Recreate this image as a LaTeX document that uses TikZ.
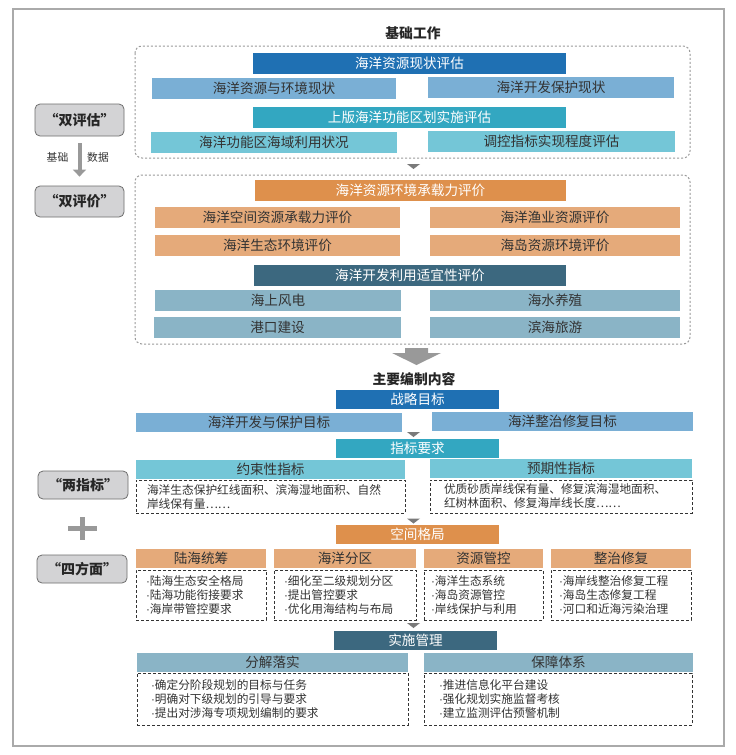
\documentclass[tikz,border=0pt]{standalone}
\usepackage{fontspec}
\setmainfont{Noto Sans CJK SC}
\newfontfamily\latinfont{Liberation Sans}
\newcommand{\dt}{{\latinfont ·}}
\usetikzlibrary{arrows.meta}
\definecolor{cDarkBlue}{HTML}{1F70B3}
\definecolor{cLightBlue}{HTML}{7AAFD5}
\definecolor{cTeal}{HTML}{33A7C1}
\definecolor{cLightTeal}{HTML}{74C6D7}
\definecolor{cDarkOrange}{HTML}{DE904C}
\definecolor{cLightOrange}{HTML}{E5AA7A}
\definecolor{cSlate}{HTML}{3C687F}
\definecolor{cSteel}{HTML}{8AB4C6}
\definecolor{cGrayBox}{HTML}{D3D3D5}
\definecolor{cGrayBorder}{HTML}{6E6E6E}
\definecolor{cText}{HTML}{333333}
\definecolor{cArrow}{HTML}{999999}
\definecolor{cTri}{HTML}{7A7A7A}
\definecolor{cFrame}{HTML}{AAAAAA}
\definecolor{cDot}{HTML}{9A9A9A}
\tikzset{
  base/.style={inner sep=0pt, outer sep=0pt, draw=none, font=\fontsize{13.6}{16}\selectfont},
  darkbox/.style={base, text=white},
  lightbox/.style={base, text=cText},
  sidebox/.style={inner sep=0pt, fill=cGrayBox, draw=cGrayBorder, line width=0.8pt, rounded corners=5pt, text=black!85, font=\bfseries\fontsize{14}{16}\selectfont},
  dbox/.style={draw=cText, dash pattern=on 3pt off 2pt, line width=0.8pt, inner ysep=0pt, outer sep=0pt, align=left, text=cText, font=\fontsize{11.7}{14}\selectfont},
  groupbox/.style={draw=cDot, dash pattern=on 2pt off 2pt, line width=1pt, rounded corners=7pt},
  title/.style={font=\bfseries\fontsize{13.8}{16}\selectfont, text=black!85, inner sep=0pt},
  smalllabel/.style={font=\fontsize{10.8}{12}\selectfont, text=cText, inner sep=0pt},
  tri/.style={fill=cTri},
}
\newcommand{\rbox}[7]{%
  \pgfmathsetmacro\bw{#4-#2}\pgfmathsetmacro\bh{#5-#3}%
  \node[#6, minimum width=\bw pt, minimum height=\bh pt] (#1) at ({(#2+#4)/2},{(#3+#5)/2}) {#7};}
\newcommand{\tbox}[7]{%
  \pgfmathsetmacro\bh{#5-#3}\pgfmathsetmacro\tw{#4-#2-2*#6}%
  \node[dbox, inner xsep=#6pt, text width=\tw pt, minimum height=\bh pt] (#1) at ({(#2+#4)/2},{(#3+#5)/2}) {#7};}
\newcommand{\downtri}[2]{\fill[tri] (#1-6.5,#2) -- (#1+6.5,#2) -- (#1,#2+5) -- cycle;}
\begin{document}
\begin{tikzpicture}[x=1pt,y=-1pt]
\useasboundingbox (0,0) rectangle (736,755);
\fill[white] (0,0) rectangle (736,755);
% outer frame
\draw[cFrame, line width=1.3pt] (13,9) rectangle (724,746);

% ---------- section 1: basic work ----------
\node[title] (t1) at (413,33) {基础工作};
\draw[groupbox] (135,46) rectangle (690,158);
\rbox{a1}{253}{53}{566}{74}{darkbox, fill=cDarkBlue}{海洋资源现状评估}
\rbox{a2}{152}{78}{396}{99}{lightbox, fill=cLightBlue}{海洋资源与环境现状}
\rbox{a3}{428}{77}{674}{98}{lightbox, fill=cLightBlue}{海洋开发保护现状}
\rbox{a4}{253}{107}{566}{128}{darkbox, fill=cTeal}{上版海洋功能区划实施评估}
\rbox{a5}{151}{132}{397}{153}{lightbox, fill=cLightTeal}{海洋功能区海域利用状况}
\rbox{a6}{428}{131}{675}{152}{lightbox, fill=cLightTeal}{调控指标实现程度评估}
\downtri{413.5}{164}

\draw[groupbox] (135,175) rectangle (690,344);
\rbox{b1}{255}{180}{566}{201}{darkbox, fill=cDarkOrange}{海洋资源环境承载力评价}
\rbox{b2}{155}{207}{400}{228}{lightbox, fill=cLightOrange}{海洋空间资源承载力评价}
\rbox{b3}{430}{207}{680}{228}{lightbox, fill=cLightOrange}{海洋渔业资源评价}
\rbox{b4}{155}{235}{400}{256}{lightbox, fill=cLightOrange}{海洋生态环境评价}
\rbox{b5}{430}{235}{680}{256}{lightbox, fill=cLightOrange}{海岛资源环境评价}
\rbox{b6}{254}{265}{566}{286}{darkbox, fill=cSlate}{海洋开发利用适宜性评价}
\rbox{b7}{155}{290}{401}{311}{lightbox, fill=cSteel}{海上风电}
\rbox{b8}{430}{290}{680}{311}{lightbox, fill=cSteel}{海水养殖}
\rbox{b9}{154}{317}{401}{338}{lightbox, fill=cSteel}{港口建设}
\rbox{b10}{430}{317}{680}{338}{lightbox, fill=cSteel}{滨海旅游}

% big arrow
\fill[cArrow] (405,348) -- (428,348) -- (428,353) -- (441,353) -- (416.5,365) -- (392,353) -- (405,353) -- cycle;

% ---------- section 2: main content ----------
\node[title] (t2) at (414,379) {主要编制内容};
\rbox{c1}{336}{390}{499}{409}{darkbox, fill=cDarkBlue}{战略目标}
\rbox{c2}{136}{413}{402}{432}{lightbox, fill=cLightBlue}{海洋开发与保护目标}
\rbox{c3}{432}{412}{693}{431}{lightbox, fill=cLightBlue}{海洋整治修复目标}
\downtri{413.5}{432}
\rbox{c4}{336}{439}{499}{458}{darkbox, fill=cTeal}{指标要求}
\rbox{c5}{136}{460}{405}{479}{lightbox, fill=cLightTeal}{约束性指标}
\rbox{c6}{430}{459}{692}{478}{lightbox, fill=cLightTeal}{预期性指标}
\tbox{d5}{136}{480}{405}{513}{11}{海洋生态保护红线面积、滨海湿地面积、自然\\岸线保有量……}
\tbox{d6}{430}{480}{692}{513}{14}{优质砂质岸线保有量、修复滨海湿地面积、\\红树林面积、修复海岸线长度……}
\downtri{413.5}{518.5}
\rbox{c7}{336}{525}{499}{544}{darkbox, fill=cDarkOrange}{空间格局}
\rbox{c8}{136}{549}{266}{568}{lightbox, fill=cLightOrange}{陆海统筹}
\rbox{c9}{274}{549}{416}{568}{lightbox, fill=cLightOrange}{海洋分区}
\rbox{c10}{424}{549}{543}{568}{lightbox, fill=cLightOrange}{资源管控}
\rbox{c11}{551}{549}{691}{568}{lightbox, fill=cLightOrange}{整治修复}
\tbox{e1}{136}{570}{266}{620}{10}{\dt 陆海生态安全格局\\\dt 陆海功能衔接要求\\\dt 海岸带管控要求}
\tbox{e2}{274}{570}{416}{620}{10}{\dt 细化至二级规划分区\\\dt 提出管控要求\\\dt 优化用海结构与布局}
\tbox{e3}{424}{570}{543}{620}{7}{\dt 海洋生态系统\\\dt 海岛资源管控\\\dt 岸线保护与利用}
\tbox{e4}{551}{570}{691}{620}{8}{\dt 海岸线整治修复工程\\\dt 海岛生态修复工程\\\dt 河口和近海污染治理}
\downtri{413.5}{623}
\rbox{c12}{334}{631}{497}{650}{darkbox, fill=cSlate}{实施管理}
\rbox{c13}{137}{653}{408}{672}{lightbox, fill=cSteel}{分解落实}
\rbox{c14}{424}{653}{693}{672}{lightbox, fill=cSteel}{保障体系}
\tbox{f1}{137}{673}{408}{725}{14}{\dt 确定分阶段规划的目标与任务\\\dt 明确对下级规划的引导与要求\\\dt 提出对涉海专项规划编制的要求}
\tbox{f2}{424}{673}{692}{725}{15}{\dt 推进信息化平台建设\\\dt 强化规划实施监督考核\\\dt 建立监测评估预警机制}

% ---------- left column ----------
\rbox{g1}{35}{104}{124}{136}{sidebox}{“双评估”}
\rbox{g2}{35}{186}{124}{217}{sidebox}{“双评价”}
\draw[cArrow, line width=4pt, -{Triangle[width=13pt,length=7pt]}] ([yshift=-7pt]g1.south) -- ([yshift=9pt]g2.north);
\node[smalllabel] (l1) at (57.5,157) {基础};
\node[smalllabel] (l2) at (98,157) {数据};
\rbox{g3}{38}{471}{128}{499}{sidebox}{“两指标”}
\draw[cArrow, line width=5pt] (68,528.5) -- (97,528.5);
\draw[cArrow, line width=5pt] (82.5,517) -- (82.5,540);
\rbox{g4}{37}{555}{127}{583}{sidebox}{“四方面”}
\end{tikzpicture}
\end{document}
